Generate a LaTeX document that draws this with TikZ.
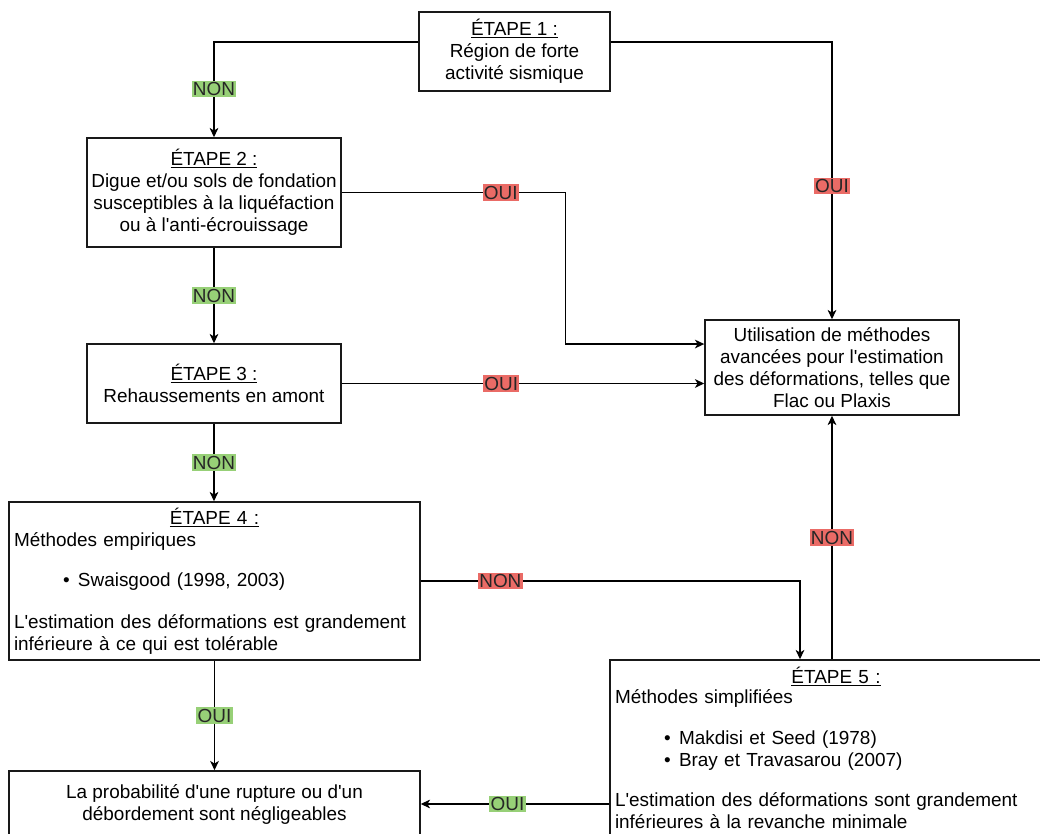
\documentclass[tikz,border=0pt]{standalone}
\usepackage{fontspec}
\setmainfont{Liberation Sans}
\usetikzlibrary{arrows.meta}
\definecolor{lblgreen}{HTML}{97D077}
\definecolor{lblred}{HTML}{EA6B66}
\newcommand{\etape}[2]{\makebox[#1][c]{\underline{ÉTAPE #2 :}}}
\newcommand{\puce}{\hspace*{36.75pt}\makebox[11.25pt][l]{\textbullet}}
\newcommand{\q}{\textquotesingle}

\begin{document}
\begin{tikzpicture}[x=0.75pt,y=-0.75pt,
    box/.style={draw=black!90, line width=1.1pt, fill=white, align=center,
        font=\fontsize{14.2pt}{16.5pt}\selectfont, inner sep=2pt},
    bigbox/.style={box, align=left, inner xsep=3.75pt},
    line/.style={-{Stealth[length=7pt, width=6.5pt, inset=2pt]}, line width=1.1pt},
    lbl/.style={font=\fontsize{14.2pt}{16.5pt}\selectfont, inner sep=1pt, text=black!85},
    lblg/.style={lbl, fill=lblgreen},
    lblr/.style={lbl, fill=lblred}]
    \useasboundingbox (0,0) rectangle (1040,834);
    \clip (0,0) rectangle (1040,834);
    % etapes
    \node[box, minimum width=143.25pt, minimum height=59.25pt] (s1) at (514.5,51.5)
        {\underline{ÉTAPE 1 :}\\Région de forte\\activité sismique};
    \node[box, minimum width=190.5pt, minimum height=81.75pt] (s2) at (214,192.5)
        {\underline{ÉTAPE 2 :}\\Digue et/ou sols de fondation\\susceptibles à la liquéfaction\\ou à l\q anti-écrouissage};
    \node[box, minimum width=190.5pt, minimum height=59.25pt] (s3) at (214,383.5)
        {\underline{ÉTAPE 3 :}\\Rehaussements en amont};
    \node[box, minimum width=190.5pt, minimum height=71.25pt] (adv) at (832,367.5)
        {Utilisation de méthodes\\avancées pour l\q estimation\\des déformations, telles que\\Flac ou Plaxis};
    \node[bigbox, text width=300.75pt, minimum height=118.5pt] (s4) at (214.5,581)
        {\etape{300.75pt}{4}\\Méthodes empiriques\\[13.5pt]
         \puce Swaisgood (1998, 2003)\\[15pt]
         L\q estimation des déformations est grandement\\inférieure à ce qui est tolérable};
    \node[bigbox, text width=331.5pt, minimum height=132pt] (s5) at (836,748)
        {\etape{331.5pt}{5}\\[-1.5pt]Méthodes simplifiées\\[14pt]
         \puce Makdisi et Seed (1978)\\
         \puce Bray et Travasarou (2007)\\[14pt]
         L\q estimation des déformations sont grandement\\inférieures à la revanche minimale};
    \node[box, minimum width=308.25pt, minimum height=49.5pt] (prob) at (214.5,804)
        {La probabilité d\q une rupture ou d\q un\\débordement sont négligeables};
    % liens
    \draw[line] ([yshift=7.1pt]s1.west) -| node[lblg, pos=0.745] {NON} (s2.north);
    \draw[line] ([yshift=7.1pt]s1.east) -| node[lblr, pos=0.76] {OUI} (adv.north);
    \draw[line] (s2.east) -- node[lblr, pos=0.71] {OUI} ++(224,0) |- ([yshift=17.6pt]adv.west);
    \draw[line] (s2.south) -- node[lblg] {NON} (s3.north);
    \draw[line] (s3.east) -- node[lblr, pos=0.44] {OUI} (s3.east -| adv.west);
    \draw[line] (s3.south) -- node[lblg] {NON} (s3.south |- s4.north);
    \draw[line] (s4.east) -| node[lblr, pos=0.105] {NON} ([xshift=-27pt]s5.north);
    \draw[line] (s5.north -| adv.south) -- node[lblr] {NON} (adv.south);
    \draw[line] (s4.south) -- node[lblg] {OUI} (prob.north);
    \draw[line] (s5.west |- prob.east) -- node[lblg, pos=0.54] {OUI} (prob.east);
\end{tikzpicture}
\end{document}
